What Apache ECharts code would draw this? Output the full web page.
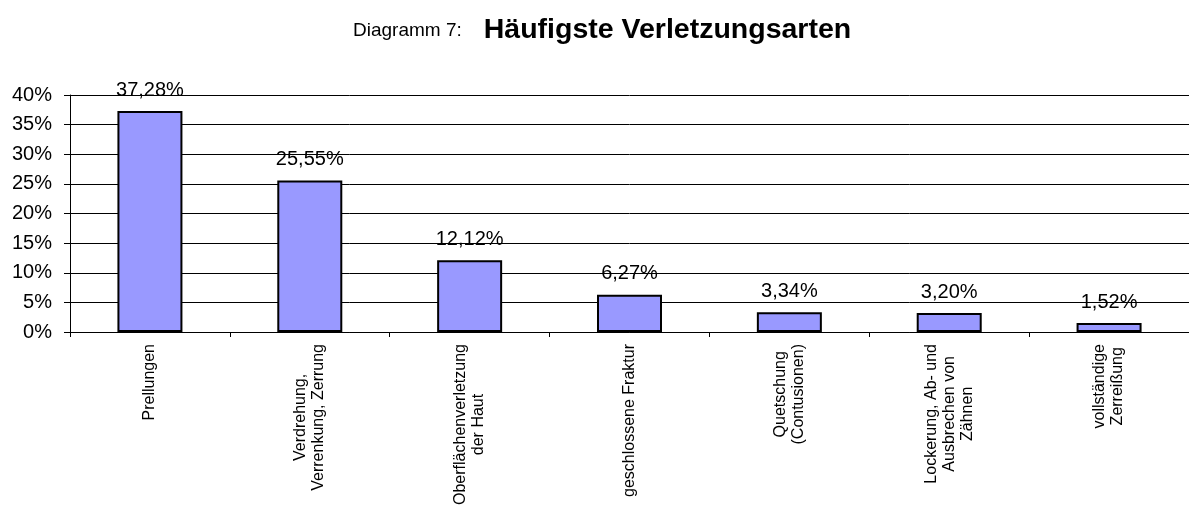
<!DOCTYPE html>
<html>
<head>
<meta charset="utf-8">
<script src="https://cdn.jsdelivr.net/npm/echarts@6/dist/echarts.min.js"></script>
<style>
  html, body { margin: 0; padding: 0; background: #fff; }
  #chart { width: 1189px; height: 506px; }
</style>
</head>
<body>
<div id="chart"></div>
<script>
// Kategorien (Zeilenumbrüche wie im Original)
const categories = [
  'Prellungen',
  'Verdrehung,\nVerrenkung, Zerrung',
  'Oberflächenverletzung\nder Haut',
  'geschlossene Fraktur',
  'Quetschung\n(Contusionen)',
  'Lockerung, Ab- und\nAusbrechen von\nZähnen',
  'vollständige\nZerreißung'
];

// Anteile in Prozent
const values = [37.28, 25.55, 12.12, 6.27, 3.34, 3.20, 1.52];

const yMin = 0;
const yMax = 40;
const yStep = 5;

const font = '"Liberation Sans", Arial, sans-serif';

const chart = echarts.init(document.getElementById('chart'));

const option = {
  backgroundColor: '#fff',
  animation: false,
  title: {
    text: '{a|Diagramm 7:}{b|Häufigste Verletzungsarten}',
    left: 348,
    top: 11,
    textStyle: {
      rich: {
        a: { fontFamily: font, fontSize: 19, fontWeight: 'normal', color: '#000', padding: [0, 22, 0, 0] },
        b: { fontFamily: font, fontSize: 28.5, fontWeight: 'bold', color: '#000' }
      }
    }
  },
  grid: {
    left: 70,
    right: 0,
    top: 95,
    bottom: 174,
    containLabel: false,
    outerBoundsMode: 'none'
  },
  xAxis: {
    type: 'category',
    data: categories,
    axisLine: { show: true, lineStyle: { color: '#000', width: 1 } },
    axisTick: { show: true, length: 5, alignWithLabel: false, lineStyle: { color: '#000' } },
    axisLabel: {
      interval: 0,
      rotate: 90,
      margin: 12,
      formatter: (v) => v.split('\n').map(s => '{c|' + s + '}').join('\n'),
      rich: {
        c: { fontFamily: font, fontSize: 16, lineHeight: 18, color: '#000', align: 'center' }
      }
    },
    splitLine: { show: false }
  },
  yAxis: {
    type: 'value',
    min: yMin,
    max: yMax,
    interval: yStep,
    axisLine: { show: true, lineStyle: { color: '#000', width: 1 } },
    axisTick: { show: true, length: 6, lineStyle: { color: '#000' } },
    axisLabel: {
      formatter: '{value}%',
      fontFamily: font,
      fontSize: 20,
      color: '#000',
      margin: 18
    },
    splitLine: { show: true, lineStyle: { color: '#000', width: 1 } }
  },
  series: [{
    type: 'bar',
    data: values,
    barWidth: 65,
    itemStyle: {
      color: '#9999FF',
      borderColor: '#000',
      borderWidth: 2
    },
    label: {
      show: true,
      position: 'top',
      distance: 11,
      fontFamily: font,
      fontSize: 20,
      color: '#000',
      formatter: (p) => p.value.toFixed(2).replace('.', ',') + '%'
    }
  }]
};

chart.setOption(option);
</script>
</body>
</html>
